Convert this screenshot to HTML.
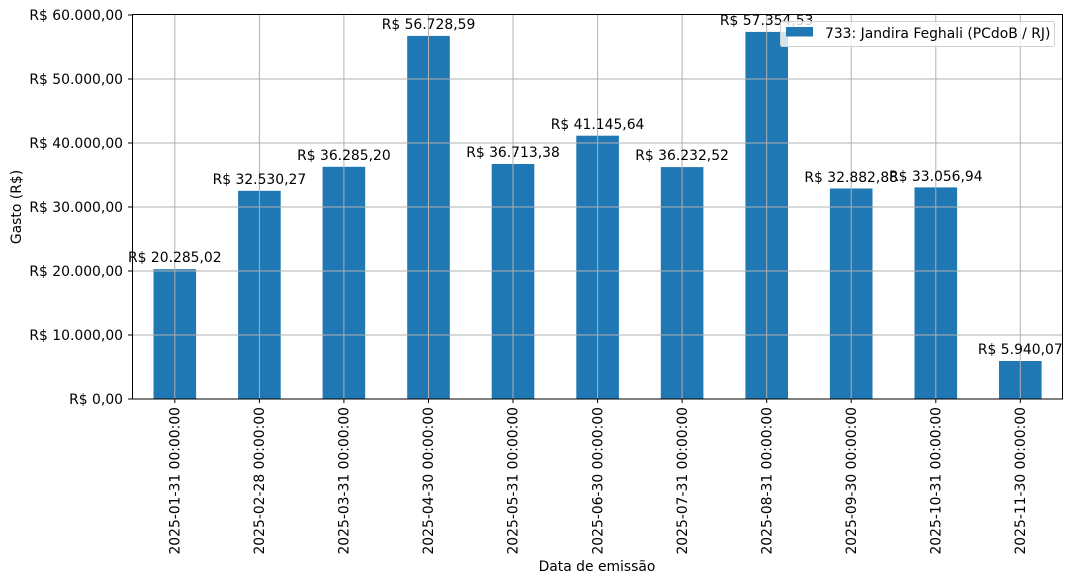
<!DOCTYPE html>
<html><head><meta charset="utf-8"><style>body{margin:0;background:#fff}svg{display:block}text{font-family:"DejaVu Sans","Liberation Sans",sans-serif;font-size:13.9px;fill:#000}</style></head><body>
<svg width="1072" height="584" xmlns="http://www.w3.org/2000/svg">
<g fill="#1f77b4">
<rect x="153.5" y="269.2" width="42.6" height="129.8"/>
<rect x="238.1" y="190.8" width="42.6" height="208.2"/>
<rect x="322.6" y="166.8" width="42.6" height="232.2"/>
<rect x="407.2" y="35.9" width="42.6" height="363.1"/>
<rect x="491.7" y="164.0" width="42.6" height="235.0"/>
<rect x="576.3" y="135.7" width="42.6" height="263.3"/>
<rect x="660.8" y="167.1" width="42.6" height="231.9"/>
<rect x="745.4" y="31.9" width="42.6" height="367.1"/>
<rect x="829.9" y="188.5" width="42.6" height="210.5"/>
<rect x="914.5" y="187.4" width="42.6" height="211.6"/>
<rect x="999.0" y="361.0" width="42.6" height="38.0"/>
</g>
<g stroke="#b0b0b0" stroke-width="1">
<line x1="132" x2="1062" y1="335" y2="335"/><line x1="132" x2="1062" y1="271" y2="271"/><line x1="132" x2="1062" y1="207" y2="207"/><line x1="132" x2="1062" y1="143" y2="143"/><line x1="132" x2="1062" y1="79" y2="79"/>
<line x1="174.8" x2="174.8" y1="15" y2="399"/><line x1="259.4" x2="259.4" y1="15" y2="399"/><line x1="343.9" x2="343.9" y1="15" y2="399"/><line x1="428.5" x2="428.5" y1="15" y2="399"/><line x1="513" x2="513" y1="15" y2="399"/><line x1="597.6" x2="597.6" y1="15" y2="399"/><line x1="682.1" x2="682.1" y1="15" y2="399"/><line x1="766.7" x2="766.7" y1="15" y2="399"/><line x1="851.2" x2="851.2" y1="15" y2="399"/><line x1="935.8" x2="935.8" y1="15" y2="399"/><line x1="1020.3" x2="1020.3" y1="15" y2="399"/>
</g>
<rect x="132.5" y="14.5" width="930" height="384.5" fill="none" stroke="#000" stroke-width="1"/>
<g stroke="#000">
<line x1="128" x2="132" y1="399" y2="399"/><line x1="128" x2="132" y1="335" y2="335"/><line x1="128" x2="132" y1="271" y2="271"/><line x1="128" x2="132" y1="207" y2="207"/><line x1="128" x2="132" y1="143" y2="143"/><line x1="128" x2="132" y1="79" y2="79"/><line x1="128" x2="132" y1="15" y2="15"/>
</g>
<g text-anchor="end">
<text x="123" y="404">R$ 0,00</text><text x="123" y="340">R$ 10.000,00</text><text x="123" y="276">R$ 20.000,00</text><text x="123" y="212">R$ 30.000,00</text><text x="123" y="148">R$ 40.000,00</text><text x="123" y="84">R$ 50.000,00</text><text x="123" y="20">R$ 60.000,00</text>
</g>
<g text-anchor="middle">
<text x="174.8" y="262">R$ 20.285,02</text><text x="259.4" y="184">R$ 32.530,27</text><text x="343.9" y="160">R$ 36.285,20</text><text x="428.5" y="29">R$ 56.728,59</text><text x="513" y="157">R$ 36.713,38</text><text x="597.6" y="129">R$ 41.145,64</text><text x="682.1" y="160">R$ 36.232,52</text><text x="766.7" y="25">R$ 57.354,53</text><text x="851.2" y="182">R$ 32.882,88</text><text x="935.8" y="181">R$ 33.056,94</text><text x="1020.3" y="354">R$ 5.940,07</text>
</g>
<g stroke="#000">
<line x1="174.8" x2="174.8" y1="399" y2="403"/><line x1="259.4" x2="259.4" y1="399" y2="403"/><line x1="343.9" x2="343.9" y1="399" y2="403"/><line x1="428.5" x2="428.5" y1="399" y2="403"/><line x1="513" x2="513" y1="399" y2="403"/><line x1="597.6" x2="597.6" y1="399" y2="403"/><line x1="682.1" x2="682.1" y1="399" y2="403"/><line x1="766.7" x2="766.7" y1="399" y2="403"/><line x1="851.2" x2="851.2" y1="399" y2="403"/><line x1="935.8" x2="935.8" y1="399" y2="403"/><line x1="1020.3" x2="1020.3" y1="399" y2="403"/>
</g>
<g text-anchor="end">
<text transform="translate(179.5,407) rotate(-90)">2025-01-31 00:00:00</text>
<text transform="translate(264.1,407) rotate(-90)">2025-02-28 00:00:00</text>
<text transform="translate(348.6,407) rotate(-90)">2025-03-31 00:00:00</text>
<text transform="translate(433.2,407) rotate(-90)">2025-04-30 00:00:00</text>
<text transform="translate(517.7,407) rotate(-90)">2025-05-31 00:00:00</text>
<text transform="translate(602.3,407) rotate(-90)">2025-06-30 00:00:00</text>
<text transform="translate(686.8,407) rotate(-90)">2025-07-31 00:00:00</text>
<text transform="translate(771.4,407) rotate(-90)">2025-08-31 00:00:00</text>
<text transform="translate(855.9,407) rotate(-90)">2025-09-30 00:00:00</text>
<text transform="translate(940.5,407) rotate(-90)">2025-10-31 00:00:00</text>
<text transform="translate(1025,407) rotate(-90)">2025-11-30 00:00:00</text>
</g>
<text x="597" y="571" text-anchor="middle">Data de emissão</text>
<text transform="translate(21,207) rotate(-90)" text-anchor="middle">Gasto (R$)</text>
<rect x="780.5" y="21.5" width="274" height="25" rx="2" fill="#fff" fill-opacity="0.8" stroke="#d0d0d0"/>
<rect x="786" y="27" width="27" height="9.5" fill="#1f77b4"/>
<text x="825" y="38">733: Jandira Feghali (PCdoB / RJ)</text>
</svg>
</body></html>
